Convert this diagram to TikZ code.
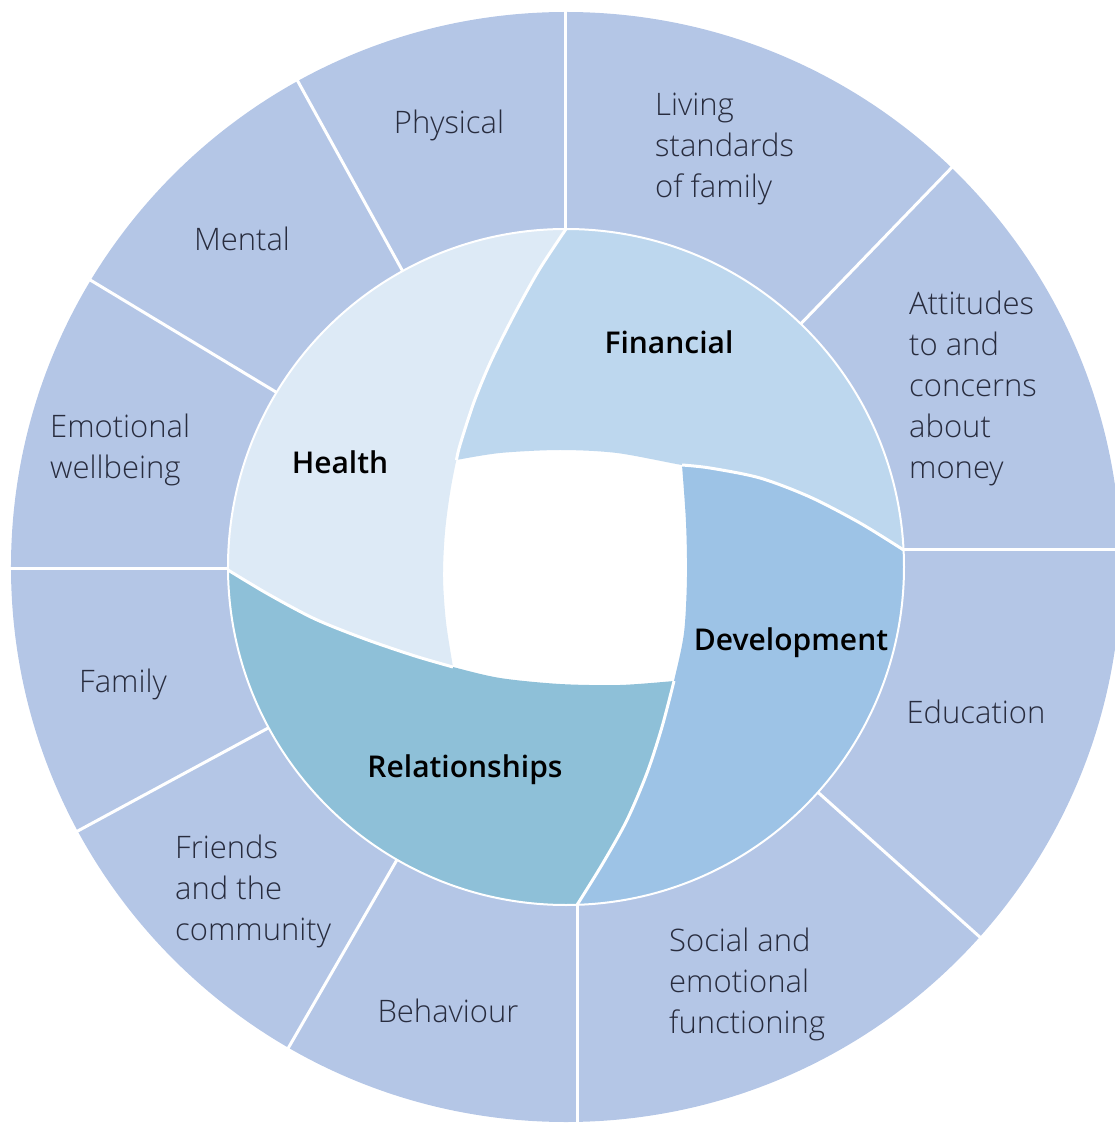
\documentclass[tikz,border=0pt]{standalone}
\usepackage{fontspec}
\IfFontExistsTF{Open Sans Light}
  {\setmainfont{Open Sans Light}}
  {\setmainfont{Open Sans}}
\IfFontExistsTF{Open Sans SemiBold}
  {\newfontfamily\medfont{Open Sans SemiBold}}
  {\IfFontExistsTF{Open Sans Semibold}
    {\newfontfamily\medfont{Open Sans Semibold}}
    {\newfontfamily\medfont{Open Sans}[FakeBold=2]}}
\definecolor{ringc}{RGB}{180,198,230}
\definecolor{healthc}{RGB}{221,234,246}
\definecolor{finc}{RGB}{189,215,238}
\definecolor{devc}{RGB}{157,195,230}
\definecolor{relc}{RGB}{142,192,216}
\definecolor{txtc}{RGB}{40,44,62}
\begin{document}
\begin{tikzpicture}[x=1pt,y=1pt,
  outerlbl/.style={font=\fontsize{31}{41}\selectfont, text=txtc, align=left, inner sep=0pt},
  innerlbl/.style={font=\medfont\fontsize{30}{40}\selectfont, text=black, inner sep=0pt},
  divline/.style={white, line width=3pt},
  swirlline/.style={white, line width=3pt},
  ringline/.style={white, line width=2pt}]
\useasboundingbox (-566,-557) rectangle (549,567);
% outer ring and inner disc
\fill[ringc] (0,0) circle[radius=555];
\fill[white] (0,0) circle[radius=338];
% Health
\fill[healthc] (0,338) arc[start angle=90,end angle=180.5,radius=338]
  -- plot[smooth] coordinates {(-338,-3) (-301,-26) (-251,-53) (-201,-73) (-151,-90) (-113,-100)}
  -- plot[smooth] coordinates {(-113,-100) (-120,-55) (-123,-10) (-121,35) (-115,80) (-106,122) (-92,165) (-75,206) (-52,252) (-27,297) (0,338)}
  -- cycle;
% Financial
\fill[finc] (337.6,17) arc[start angle=2.88,end angle=90,radius=338]
  -- plot[smooth] coordinates {(0,338) (-27,297) (-52,252) (-75,206) (-92,165) (-106,122) (-109.5,107)}
  -- plot[smooth] coordinates {(-109.5,107) (-66,114) (-6,117) (51,114) (116,102) (144,99) (194,89) (244,70) (294,44) (337.6,17)}
  -- cycle;
% Development
\fill[devc] (11,-338) arc[start angle=-88.14,end angle=2.88,radius=338]
  -- plot[smooth] coordinates {(337.6,17) (294,44) (244,70) (194,89) (144,99) (116,102)}
  -- plot[smooth] coordinates {(116,102) (120,45) (121,-10) (118,-66) (108,-114) (96,-160) (81,-206) (61,-253) (37,-296) (11,-338)}
  -- cycle;
% Relationships
\fill[relc] (-338,-3) arc[start angle=180.5,end angle=271.86,radius=338]
  -- plot[smooth] coordinates {(11,-338) (37,-296) (61,-253) (81,-206) (96,-160) (108,-114)}
  -- plot[smooth] coordinates {(108,-114) (54,-118) (-6,-117) (-66,-111) (-113,-100) (-151,-89) (-201,-72) (-251,-52) (-298,-27) (-338,-3)}
  -- cycle;
% swirl separators
\draw[swirlline] plot[smooth] coordinates {(0,338) (-27,297) (-52,252) (-75,206) (-92,165) (-106,122) (-109.5,107)};
\draw[swirlline] plot[smooth] coordinates {(337.6,17) (294,44) (244,70) (194,89) (144,99) (116,102)};
\draw[swirlline] plot[smooth] coordinates {(11,-338) (37,-296) (61,-253) (81,-206) (96,-160) (108,-114)};
\draw[swirlline] plot[smooth] coordinates {(-338,-3) (-298,-27) (-251,-52) (-201,-72) (-151,-89) (-113,-100)};
\draw[ringline] (0,0) circle[radius=338];
% outer dividers
\draw[divline] (90:338) -- (90:560);
\draw[divline] (46:338) -- (46:560);
\draw[divline] (337.6,17) -- (560,17);
\draw[divline] (318.2:338) -- (318.2:560);
\draw[divline] (11,-337.8) -- (11,-560);
\draw[divline] (240:338) -- (240:560);
\draw[divline] (208.4:338) -- (208.4:560);
\draw[divline] (-338,-1.5) -- (-560,-1.5);
\draw[divline] (148.9:338) -- (148.9:560);
\draw[divline] (118.9:338) -- (118.9:560);
% labels
\node[outerlbl] (physical) at (-117,442) {Physical};
\node[outerlbl, anchor=west] (living) at (89,418) {Living\\standards\\of family};
\node[outerlbl] (mental) at (-324,328) {Mental};
\node[outerlbl, anchor=west] (attitudes) at (343,179) {Attitudes\\to and\\concerns\\about\\money};
\node[outerlbl, anchor=west] (emotional) at (-516,117) {Emotional\\wellbeing};
\node[innerlbl] (health) at (-226,105) {Health};
\node[innerlbl] (financial) at (103,225) {Financial};
\node[innerlbl] (development) at (225,-76) {Development};
\node[innerlbl] (relationships) at (-101,-203) {Relationships};
\node[outerlbl] (family) at (-443,-117) {Family};
\node[outerlbl] (education) at (410,-145) {Education};
\node[outerlbl, anchor=west] (friends) at (-391,-324) {Friends\\and the\\community};
\node[outerlbl] (behaviour) at (-118,-444) {Behaviour};
\node[outerlbl, anchor=west] (social) at (103,-417) {Social and\\emotional\\functioning};
\end{tikzpicture}
\end{document}
